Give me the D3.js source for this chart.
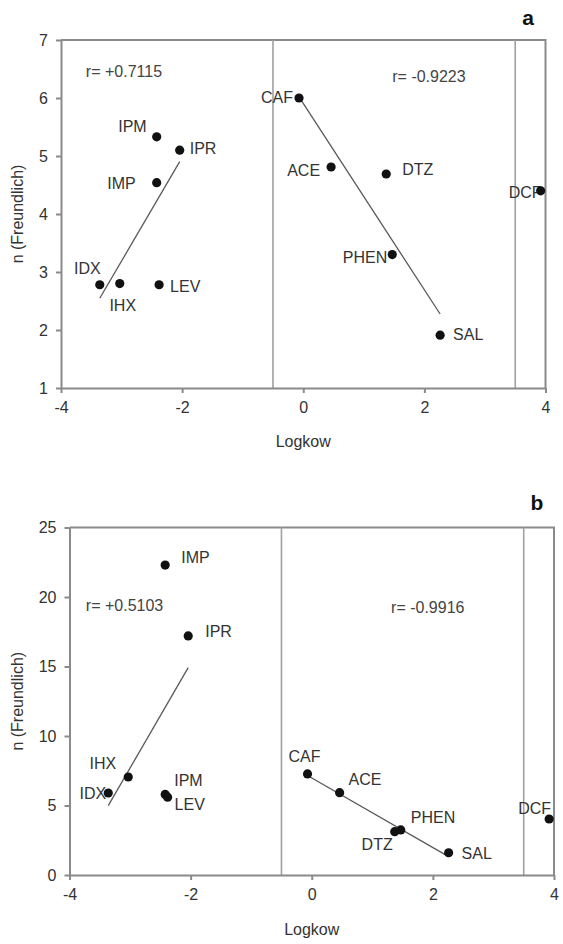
<!DOCTYPE html>
<html>
<head>
<meta charset="utf-8">
<script src="https://cdn.jsdelivr.net/npm/d3@7"></script>
<style>
    body { margin: 0; background: #fff; }
    svg { display: block; font-family: "Liberation Sans", Arial, sans-serif; }
    .axis path, .axis line { stroke: #8a8a8a; stroke-width: 2; }
    .axis text { fill: #333; font-size: 16px; }
    .frame { stroke: #8a8a8a; stroke-width: 2; fill: none; }
    .divider { stroke: #a0a0a0; stroke-width: 1.6; }
    .fit { stroke: #5a5a5a; stroke-width: 1.3; }
    .dot { fill: #111; }
    .lbl { fill: #333; font-size: 16px; }
    .rval { fill: #444; font-size: 16px; }
</style>
</head>
<body>
<div id="chart"></div>
<script>
(function() {

    // compounds and their log Kow (same for both panels)
    var compounds = ["IDX", "IHX", "IMP", "IPM", "IPR", "LEV", "CAF", "ACE", "DTZ", "PHEN", "SAL", "DCF"];
    var logkow = [-3.36, -3.03, -2.42, -2.42, -2.04, -2.38, -0.07, 0.46, 1.37, 1.47, 2.26, 3.92];
    // which regression group each compound belongs to
    var groups = ["left", "left", "left", "left", "left", "left", "right", "right", "right", "right", "right", "none"];

    // Freundlich n, panel a and panel b
    var nA = [2.78, 2.80, 4.54, 5.33, 5.10, 2.78, 6.00, 4.81, 4.69, 3.30, 1.91, 4.40];
    var nB = [5.90, 7.05, 22.3, 5.80, 17.2, 5.60, 7.27, 5.92, 3.12, 3.24, 1.60, 4.03];

    // correlation coefficients printed on each panel
    var rA = ["r= +0.7115", "r= -0.9223"];
    var rB = ["r= +0.5103", "r= -0.9916"];

    // vertical separator lines (log Kow)
    var dividers = [-0.5, 3.5];

    var xTicks = [-4, -2, 0, 2, 4];
    var yTicksA = [1, 2, 3, 4, 5, 6, 7];
    var yTicksB = [0, 5, 10, 15, 20, 25];

    var width = 563,
        height = 944

    // plain hyphen minus like the original figure
    var fmt = function(d) { return String(d); };

    var svg = d3.select("#chart")
        .append("svg")
        .attr("width", width)
        .attr("height", height)

    // label placement: [dx, dy, anchor] relative to the dot
    var labelsA = {
        IDX: [1, -17, "end"], IHX: [3, 21, "middle"], IMP: [-21, 0, "end"],
        IPM: [-10, -11, "end"], IPR: [10, -2, "start"], LEV: [11, 1, "start"],
        CAF: [-6, -1, "end"], ACE: [-11, 3, "end"], DTZ: [16, -5, "start"],
        PHEN: [-5, 2, "end"], SAL: [13, -1, "start"], DCF: [1, 1, "end"]
    };
    var labelsB = {
        IDX: [-2, 0, "end"], IHX: [-12, -14, "end"], IMP: [16, -8, "start"],
        IPM: [9, -14, "start"], IPR: [17, -5, "start"], LEV: [7, 7, "start"],
        CAF: [-3, -18, "middle"], ACE: [9, -14, "start"], DTZ: [-2, 12, "end"],
        PHEN: [10, -13, "start"], SAL: [13, 0, "start"], DCF: [2, -11, "end"]
    };

    drawPanel({
        left: 61, right: 545.5, top: 40, bottom: 388,
        yDomain: [1, 7], yTicks: yTicksA, values: nA, r: rA,
        rPos: [[-3.59, 6.47], [1.47, 6.38]],
        labels: labelsA, letter: "a", letterPos: [528, 25], titleY: 441
    });

    drawPanel({
        left: 69.5, right: 554, top: 527.5, bottom: 875,
        yDomain: [0, 25], yTicks: yTicksB, values: nB, r: rB,
        rPos: [[-3.73, 19.4], [1.31, 19.3]],
        labels: labelsB, letter: "b", letterPos: [537, 510], titleY: 929
    });

    function drawPanel(p) {

        var x = d3.scaleLinear()
            .domain([-4, 4])
            .range([p.left, p.right])

        var y = d3.scaleLinear()
            .domain(p.yDomain)
            .range([p.bottom, p.top])

        var g = svg.append("g")

        // top and right frame
        g.append("path")
            .attr("class", "frame")
            .attr("d", "M" + p.left + "," + p.top + "H" + p.right + "V" + p.bottom)

        // separator lines
        g.selectAll(".divider")
            .data(dividers)
            .enter()
            .append("line")
            .attr("class", "divider")
            .attr("x1", function(d) { return x(d); })
            .attr("x2", function(d) { return x(d); })
            .attr("y1", p.top)
            .attr("y2", p.bottom)

        // axes
        g.append("g")
            .attr("class", "axis")
            .attr("transform", "translate(0," + p.bottom + ")")
            .call(d3.axisBottom(x).tickValues(xTicks).tickFormat(fmt)
                .tickSizeInner(5).tickSizeOuter(0).tickPadding(9))

        g.append("g")
            .attr("class", "axis")
            .attr("transform", "translate(" + p.left + ",0)")
            .call(d3.axisLeft(y).tickValues(p.yTicks).tickFormat(fmt)
                .tickSizeInner(5).tickSizeOuter(0).tickPadding(8))

        // points joined with their values
        var pts = compounds.map(function(c, i) {
            return { name: c, x: logkow[i], y: p.values[i], group: groups[i] };
        });

        // least squares fits for each group
        ["left", "right"].forEach(function(grp) {
            var sub = pts.filter(function(d) { return d.group === grp; });
            var mx = d3.mean(sub, function(d) { return d.x; }),
                my = d3.mean(sub, function(d) { return d.y; });
            var sxy = d3.sum(sub, function(d) { return (d.x - mx) * (d.y - my); }),
                sxx = d3.sum(sub, function(d) { return (d.x - mx) * (d.x - mx); });
            var slope = sxy / sxx;
            var ext = d3.extent(sub, function(d) { return d.x; });
            g.append("line")
                .attr("class", "fit")
                .attr("x1", x(ext[0]))
                .attr("y1", y(my + slope * (ext[0] - mx)))
                .attr("x2", x(ext[1]))
                .attr("y2", y(my + slope * (ext[1] - mx)))
        });

        // compound labels
        g.selectAll(".lbl")
            .data(pts)
            .enter()
            .append("text")
            .attr("class", "lbl")
            .attr("x", function(d) { return x(d.x) + p.labels[d.name][0]; })
            .attr("y", function(d) { return y(d.y) + p.labels[d.name][1] + 6; })
            .attr("text-anchor", function(d) { return p.labels[d.name][2]; })
            .text(function(d) { return d.name; })

        // dots
        g.selectAll(".dot")
            .data(pts)
            .enter()
            .append("circle")
            .attr("class", "dot")
            .attr("cx", function(d) { return x(d.x); })
            .attr("cy", function(d) { return y(d.y); })
            .attr("r", 4.6)

        // r values
        g.selectAll(".rval")
            .data(p.r)
            .enter()
            .append("text")
            .attr("class", "rval")
            .attr("x", function(d, i) { return x(p.rPos[i][0]); })
            .attr("y", function(d, i) { return y(p.rPos[i][1]) + 6; })
            .text(function(d) { return d; })

        // axis titles
        g.append("text")
            .attr("x", (x(-4) + x(4)) / 2)
            .attr("y", p.titleY + 6)
            .attr("text-anchor", "middle")
            .attr("fill", "#333")
            .style("font-size", "16px")
            .text("Logkow")

        g.append("text")
            .attr("transform", "translate(" + 23 + "," + (p.top + p.bottom) / 2 + ") rotate(-90)")
            .attr("text-anchor", "middle")
            .attr("fill", "#333")
            .style("font-size", "16px")
            .text("n (Freundlich)")

        // panel letter
        g.append("text")
            .attr("x", p.letterPos[0])
            .attr("y", p.letterPos[1])
            .attr("text-anchor", "middle")
            .attr("fill", "#111")
            .style("font-size", "21px")
            .style("font-weight", "bold")
            .text(p.letter)
    }

})();
</script>
</body>
</html>
